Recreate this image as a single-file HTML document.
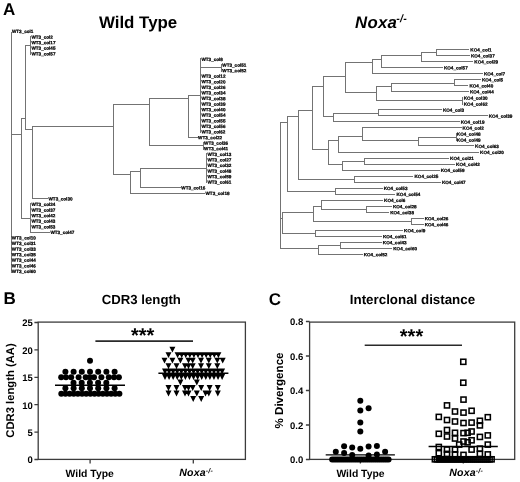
<!DOCTYPE html>
<html><head><meta charset="utf-8"><title>Figure</title>
<style>
html,body{margin:0;padding:0;background:#fff;}
body{width:520px;height:482px;overflow:hidden;font-family:"Liberation Sans",sans-serif;}
svg{display:block;filter:grayscale(1);}
text{text-rendering:geometricPrecision;}
</style></head><body>
<svg width="520" height="482" viewBox="0 0 520 482">
<rect width="520" height="482" fill="#fff"/>
<g stroke="#737373" stroke-width="1.00" fill="none" stroke-linecap="square">
<path d="M11.50 32.50L11.50 272.50M11.50 134.50L21.50 134.50M21.50 118.50L21.50 218.50M21.50 118.50L25.50 118.50M25.50 45.50L25.50 129.50M25.50 45.50L30.50 45.50M30.50 36.50L30.50 54.50M25.50 129.50L32.50 129.50M32.50 126.50L32.50 198.50M32.50 126.50L113.50 126.50M32.50 198.50L47.50 198.50M21.50 218.50L30.50 218.50M30.50 203.50L30.50 232.50M30.50 232.50L49.50 232.50M113.50 104.50L113.50 174.50M113.50 104.50L149.50 104.50M149.50 98.50L149.50 145.50M149.50 98.50L188.50 98.50M188.50 95.50L188.50 137.50M188.50 95.50L200.50 95.50M200.50 58.50L200.50 132.50M200.50 67.50L221.50 67.50M221.50 64.50L221.50 71.50M188.50 137.50L197.50 137.50M149.50 145.50L203.50 145.50M203.50 142.50L203.50 149.50M113.50 174.50L130.50 174.50M130.50 171.50L130.50 193.50M130.50 171.50L140.50 171.50M140.50 168.50L140.50 187.50M140.50 168.50L206.50 168.50M206.50 153.50L206.50 182.50M140.50 187.50L180.50 187.50M130.50 193.50L204.50 193.50M280.50 122.50L280.50 248.50M280.50 122.50L287.50 122.50M287.50 116.50L287.50 191.50M287.50 116.50L298.50 116.50M298.50 110.50L298.50 179.50M298.50 110.50L312.50 110.50M312.50 86.50L312.50 149.50M312.50 86.50L323.50 86.50M323.50 76.50L323.50 116.50M323.50 76.50L345.50 76.50M345.50 62.50L345.50 92.50M345.50 62.50L372.50 62.50M372.50 59.50L372.50 73.50M372.50 59.50L381.50 59.50M381.50 55.50L381.50 67.50M381.50 55.50L421.50 55.50M421.50 52.50L421.50 61.50M421.50 52.50L436.50 52.50M436.50 49.50L436.50 55.50M436.50 49.50L468.50 49.50M436.50 55.50L469.50 55.50M421.50 61.50L472.50 61.50M381.50 67.50L442.50 67.50M372.50 73.50L482.50 73.50M345.50 92.50L376.50 92.50M376.50 86.50L376.50 100.50M376.50 86.50L391.50 86.50M391.50 83.50L391.50 91.50M391.50 83.50L454.50 83.50M454.50 79.50L454.50 85.50M454.50 79.50L480.50 79.50M454.50 85.50L467.50 85.50M391.50 91.50L468.50 91.50M376.50 100.50L462.50 100.50M462.50 97.50L462.50 104.50M323.50 116.50L333.50 116.50M333.50 113.50L333.50 121.50M333.50 113.50L378.50 113.50M378.50 109.50L378.50 115.50M378.50 109.50L441.50 109.50M378.50 115.50L487.50 115.50M333.50 121.50L459.50 121.50M312.50 149.50L328.50 149.50M328.50 140.50L328.50 164.50M328.50 140.50L338.50 140.50M338.50 136.50L338.50 152.50M338.50 136.50L362.50 136.50M362.50 127.50L362.50 140.50M362.50 127.50L461.50 127.50M362.50 140.50L418.50 140.50M418.50 137.50L418.50 145.50M418.50 137.50L456.50 137.50M456.50 133.50L456.50 140.50M418.50 145.50L473.50 145.50M338.50 152.50L478.50 152.50M328.50 164.50L342.50 164.50M342.50 161.50L342.50 170.50M342.50 161.50L364.50 161.50M364.50 158.50L364.50 164.50M364.50 158.50L448.50 158.50M364.50 164.50L454.50 164.50M342.50 170.50L439.50 170.50M298.50 179.50L354.50 179.50M354.50 176.50L354.50 182.50M354.50 176.50L412.50 176.50M354.50 182.50L440.50 182.50M287.50 191.50L335.50 191.50M335.50 188.50L335.50 194.50M335.50 188.50L382.50 188.50M335.50 194.50L394.50 194.50M280.50 218.50L282.50 218.50M282.50 212.50L282.50 233.50M282.50 212.50L313.50 212.50M313.50 206.50L313.50 221.50M313.50 206.50L321.50 206.50M321.50 200.50L321.50 209.50M321.50 200.50L382.50 200.50M321.50 209.50L366.50 209.50M366.50 206.50L366.50 212.50M366.50 206.50L391.50 206.50M366.50 212.50L388.50 212.50M313.50 221.50L411.50 221.50M411.50 218.50L411.50 224.50M411.50 218.50L423.50 218.50M411.50 224.50L423.50 224.50M282.50 233.50L315.50 233.50M315.50 230.50L315.50 236.50M315.50 230.50L402.50 230.50M315.50 236.50L381.50 236.50M280.50 248.50L318.50 248.50M318.50 245.50L318.50 254.50M318.50 245.50L340.50 245.50M340.50 242.50L340.50 248.50M340.50 242.50L381.50 242.50M340.50 248.50L391.50 248.50M318.50 254.50L362.50 254.50"/>
</g>
<g font-family="Liberation Sans, sans-serif" font-weight="bold" font-size="4.60" fill="#000" stroke="#000" stroke-width="0.24" style="text-rendering:geometricPrecision" transform="rotate(0.03)">
<text x="12.00" y="33.06">WT3_col1</text>
<text x="12.00" y="239.52">WT3_col10</text>
<text x="12.00" y="245.10">WT3_col31</text>
<text x="12.00" y="250.68">WT3_col33</text>
<text x="12.00" y="256.26">WT3_col35</text>
<text x="12.00" y="261.84">WT3_col44</text>
<text x="12.00" y="267.42">WT3_col46</text>
<text x="12.00" y="273.00">WT3_col60</text>
<text x="31.50" y="38.64">WT3_col2</text>
<text x="31.50" y="44.22">WT3_col17</text>
<text x="31.50" y="49.80">WT3_col45</text>
<text x="31.50" y="55.38">WT3_col57</text>
<text x="48.60" y="200.46">WT3_col30</text>
<text x="31.50" y="206.04">WT3_col24</text>
<text x="31.50" y="211.62">WT3_col37</text>
<text x="31.50" y="217.20">WT3_col42</text>
<text x="31.50" y="222.78">WT3_col43</text>
<text x="31.50" y="228.36">WT3_col53</text>
<text x="50.50" y="233.94">WT3_col47</text>
<text x="222.40" y="66.54">WT3_col51</text>
<text x="222.40" y="72.12">WT3_col52</text>
<text x="201.50" y="60.96">WT3_col8</text>
<text x="201.50" y="77.70">WT3_col12</text>
<text x="201.50" y="83.28">WT3_col20</text>
<text x="201.50" y="88.86">WT3_col26</text>
<text x="201.50" y="94.44">WT3_col34</text>
<text x="201.50" y="100.02">WT3_col38</text>
<text x="201.50" y="105.60">WT3_col39</text>
<text x="201.50" y="111.18">WT3_col40</text>
<text x="201.50" y="116.76">WT3_col54</text>
<text x="201.50" y="122.34">WT3_col55</text>
<text x="201.50" y="127.92">WT3_col56</text>
<text x="201.50" y="133.50">WT3_col62</text>
<text x="198.20" y="139.08">WT3_col22</text>
<text x="204.20" y="144.66">WT3_col36</text>
<text x="204.20" y="150.24">WT3_col41</text>
<text x="207.50" y="155.82">WT3_col13</text>
<text x="207.50" y="161.40">WT3_col27</text>
<text x="207.50" y="166.98">WT3_col32</text>
<text x="207.50" y="172.56">WT3_col48</text>
<text x="207.50" y="178.14">WT3_col59</text>
<text x="207.50" y="183.72">WT3_col61</text>
<text x="181.40" y="189.30">WT3_col16</text>
<text x="205.60" y="194.88">WT3_col18</text>
<text x="470.40" y="51.16">KO4_col1</text>
<text x="471.00" y="57.19">KO4_col37</text>
<text x="474.40" y="63.22">KO4_col29</text>
<text x="444.00" y="69.25">KO4_col57</text>
<text x="484.00" y="75.28">KO4_col7</text>
<text x="482.00" y="81.31">KO4_col5</text>
<text x="469.50" y="87.34">KO4_col40</text>
<text x="470.00" y="93.37">KO4_col44</text>
<text x="463.80" y="99.40">KO4_col30</text>
<text x="463.80" y="105.43">KO4_col62</text>
<text x="443.00" y="111.46">KO4_col3</text>
<text x="488.70" y="117.49">KO4_col39</text>
<text x="460.80" y="123.52">KO4_col19</text>
<text x="462.70" y="129.55">KO4_col2</text>
<text x="456.90" y="135.58">KO4_col48</text>
<text x="456.90" y="141.61">KO4_col49</text>
<text x="475.20" y="147.64">KO4_col63</text>
<text x="480.20" y="153.67">KO4_col20</text>
<text x="450.20" y="159.70">KO4_col21</text>
<text x="456.20" y="165.73">KO4_col42</text>
<text x="440.80" y="171.76">KO4_col59</text>
<text x="414.60" y="177.79">KO4_col25</text>
<text x="442.00" y="183.82">KO4_col47</text>
<text x="383.80" y="189.85">KO4_col53</text>
<text x="396.60" y="195.88">KO4_col54</text>
<text x="384.20" y="201.91">KO4_col6</text>
<text x="393.00" y="207.94">KO4_col28</text>
<text x="390.30" y="213.97">KO4_col38</text>
<text x="424.80" y="220.00">KO4_col26</text>
<text x="424.80" y="226.03">KO4_col46</text>
<text x="404.20" y="232.06">KO4_col9</text>
<text x="383.00" y="238.09">KO4_col61</text>
<text x="383.00" y="244.12">KO4_col43</text>
<text x="393.40" y="250.15">KO4_col60</text>
<text x="363.80" y="256.18">KO4_col52</text>
</g>
<g font-family="Liberation Sans, sans-serif" font-weight="bold" fill="#000">
<text x="2.9" y="15" font-size="17">A</text>
<text x="3.6" y="303.8" font-size="17">B</text>
<text x="268.7" y="304.5" font-size="17">C</text>
<text x="98.9" y="27.6" font-size="16.9">Wild Type</text>
<text x="355" y="27.5" font-size="16.8" font-style="italic" letter-spacing="0.28">Noxa<tspan font-size="10.6" dy="-5.2" dx="-0.9">-/-</tspan></text>
<text x="101.8" y="304.3" font-size="13.2">CDR3 length</text>
<text x="349.8" y="303.9" font-size="13.35">Interclonal distance</text>
<text x="142.6" y="341.9" font-size="20" text-anchor="middle">***</text>
<text x="411.5" y="343.4" font-size="20" text-anchor="middle">***</text>
<text x="89.7" y="477" font-size="10.4" text-anchor="middle">Wild Type</text>
<text x="360.5" y="477" font-size="10.4" text-anchor="middle">Wild Type</text>
<text x="179.3" y="476.1" font-size="10.6" font-style="italic" letter-spacing="0.15">Noxa<tspan font-size="7" dy="-3.2">-/-</tspan></text>
<text x="449.3" y="476.1" font-size="10.6" font-style="italic" letter-spacing="0.15">Noxa<tspan font-size="7" dy="-3.2">-/-</tspan></text>
<text transform="translate(13.6,390.5) rotate(-90)" font-size="11.25" text-anchor="middle">CDR3 length (AA)</text>
<text transform="translate(283.3,390.5) rotate(-90)" font-size="11.6" text-anchor="middle">% Divergence</text>
<text x="32.8" y="463.30" font-size="9.5" text-anchor="end">0</text>
<text x="32.8" y="435.90" font-size="9.5" text-anchor="end">5</text>
<text x="32.8" y="408.50" font-size="9.5" text-anchor="end">10</text>
<text x="32.8" y="381.10" font-size="9.5" text-anchor="end">15</text>
<text x="32.8" y="353.70" font-size="9.5" text-anchor="end">20</text>
<text x="32.8" y="326.30" font-size="9.5" text-anchor="end">25</text>
<text x="303.3" y="463.40" font-size="9.5" text-anchor="end">0.0</text>
<text x="303.3" y="428.90" font-size="9.5" text-anchor="end">0.2</text>
<text x="303.3" y="394.40" font-size="9.5" text-anchor="end">0.4</text>
<text x="303.3" y="359.90" font-size="9.5" text-anchor="end">0.6</text>
<text x="303.3" y="325.40" font-size="9.5" text-anchor="end">0.8</text>
</g>
<g stroke="#3c3c3c" stroke-width="1.3" fill="none" stroke-linecap="butt">
<rect x="38.2" y="322.1" width="207.2" height="137.3"/>
<rect x="309.6" y="322.1" width="205.1" height="137.3"/>
<path d="M34.4 459.50H38.2M34.4 432.10H38.2M34.4 404.70H38.2M34.4 377.30H38.2M34.4 349.90H38.2M34.4 322.50H38.2M305.9 459.50H309.6M305.9 425.00H309.6M305.9 390.50H309.6M305.9 356.00H309.6M305.9 321.50H309.6M90.1 459.4V463.6M193.3 459.4V463.6M360.4 459.4V463.6M463.3 459.4V463.6"/>
</g>
<g stroke="#2a2a2a" stroke-width="1.6" fill="none">
<path d="M95.4 341.1H193M364.7 345.2H462"/>
<path d="M55 385.3H125M158.4 373.2H228.4M325.7 454.9H394.9M428.6 446.5H497.8" stroke="#000" stroke-width="1.4"/>
</g>
<g fill="#000">
<circle cx="90.00" cy="360.86" r="3.00"/>
<circle cx="65.40" cy="371.82" r="3.00"/>
<circle cx="73.60" cy="371.82" r="3.00"/>
<circle cx="81.80" cy="371.82" r="3.00"/>
<circle cx="90.00" cy="371.82" r="3.00"/>
<circle cx="98.20" cy="371.82" r="3.00"/>
<circle cx="106.40" cy="371.82" r="3.00"/>
<circle cx="114.60" cy="371.82" r="3.00"/>
<circle cx="61.20" cy="377.30" r="3.00"/>
<circle cx="66.00" cy="377.30" r="3.00"/>
<circle cx="71.20" cy="377.30" r="3.00"/>
<circle cx="78.60" cy="377.30" r="3.00"/>
<circle cx="85.70" cy="377.30" r="3.00"/>
<circle cx="89.80" cy="377.30" r="3.00"/>
<circle cx="94.00" cy="377.30" r="3.00"/>
<circle cx="101.40" cy="377.30" r="3.00"/>
<circle cx="108.80" cy="377.30" r="3.00"/>
<circle cx="114.00" cy="377.30" r="3.00"/>
<circle cx="118.90" cy="377.30" r="3.00"/>
<circle cx="73.50" cy="382.78" r="3.00"/>
<circle cx="81.70" cy="382.78" r="3.00"/>
<circle cx="89.90" cy="382.78" r="3.00"/>
<circle cx="98.10" cy="382.78" r="3.00"/>
<circle cx="106.30" cy="382.78" r="3.00"/>
<circle cx="65.40" cy="388.26" r="3.00"/>
<circle cx="73.60" cy="388.26" r="3.00"/>
<circle cx="81.80" cy="388.26" r="3.00"/>
<circle cx="90.00" cy="388.26" r="3.00"/>
<circle cx="98.20" cy="388.26" r="3.00"/>
<circle cx="106.40" cy="388.26" r="3.00"/>
<circle cx="114.60" cy="388.26" r="3.00"/>
<circle cx="61.30" cy="393.74" r="3.00"/>
<circle cx="65.45" cy="393.74" r="3.00"/>
<circle cx="69.60" cy="393.74" r="3.00"/>
<circle cx="73.75" cy="393.74" r="3.00"/>
<circle cx="77.90" cy="393.74" r="3.00"/>
<circle cx="82.05" cy="393.74" r="3.00"/>
<circle cx="86.20" cy="393.74" r="3.00"/>
<circle cx="90.35" cy="393.74" r="3.00"/>
<circle cx="94.50" cy="393.74" r="3.00"/>
<circle cx="98.65" cy="393.74" r="3.00"/>
<circle cx="102.80" cy="393.74" r="3.00"/>
<circle cx="106.95" cy="393.74" r="3.00"/>
<circle cx="111.10" cy="393.74" r="3.00"/>
<circle cx="115.25" cy="393.74" r="3.00"/>
<circle cx="119.40" cy="393.74" r="3.00"/>
</g>
<path d="M169.40 346.70h6l-3 5.9zM165.50 352.18h6l-3 5.9zM174.60 352.18h6l-3 5.9zM178.68 352.18h6l-3 5.9zM182.76 352.18h6l-3 5.9zM186.84 352.18h6l-3 5.9zM190.92 352.18h6l-3 5.9zM195.00 352.18h6l-3 5.9zM199.08 352.18h6l-3 5.9zM203.16 352.18h6l-3 5.9zM207.24 352.18h6l-3 5.9zM211.32 352.18h6l-3 5.9zM215.40 352.18h6l-3 5.9zM161.50 357.66h6l-3 5.9zM169.40 357.66h6l-3 5.9zM177.40 357.66h6l-3 5.9zM185.50 357.66h6l-3 5.9zM189.70 357.66h6l-3 5.9zM198.00 357.66h6l-3 5.9zM205.80 357.66h6l-3 5.9zM214.30 357.66h6l-3 5.9zM219.70 357.66h6l-3 5.9zM165.50 363.14h6l-3 5.9zM173.50 363.14h6l-3 5.9zM182.00 363.14h6l-3 5.9zM185.50 363.14h6l-3 5.9zM189.70 363.14h6l-3 5.9zM198.00 363.14h6l-3 5.9zM205.80 363.14h6l-3 5.9zM214.30 363.14h6l-3 5.9zM162.00 368.62h6l-3 5.9zM166.08 368.62h6l-3 5.9zM170.16 368.62h6l-3 5.9zM174.24 368.62h6l-3 5.9zM178.32 368.62h6l-3 5.9zM182.40 368.62h6l-3 5.9zM186.48 368.62h6l-3 5.9zM190.56 368.62h6l-3 5.9zM194.64 368.62h6l-3 5.9zM198.72 368.62h6l-3 5.9zM202.80 368.62h6l-3 5.9zM206.88 368.62h6l-3 5.9zM210.96 368.62h6l-3 5.9zM215.04 368.62h6l-3 5.9zM219.12 368.62h6l-3 5.9zM162.00 374.10h6l-3 5.9zM166.08 374.10h6l-3 5.9zM170.16 374.10h6l-3 5.9zM174.24 374.10h6l-3 5.9zM178.32 374.10h6l-3 5.9zM182.40 374.10h6l-3 5.9zM186.48 374.10h6l-3 5.9zM190.56 374.10h6l-3 5.9zM194.64 374.10h6l-3 5.9zM198.72 374.10h6l-3 5.9zM202.80 374.10h6l-3 5.9zM206.88 374.10h6l-3 5.9zM210.96 374.10h6l-3 5.9zM215.04 374.10h6l-3 5.9zM219.12 374.10h6l-3 5.9zM177.40 379.58h6l-3 5.9zM193.80 379.58h6l-3 5.9zM165.50 385.06h6l-3 5.9zM173.50 385.06h6l-3 5.9zM182.00 385.06h6l-3 5.9zM185.50 385.06h6l-3 5.9zM189.70 385.06h6l-3 5.9zM198.20 385.06h6l-3 5.9zM206.60 385.06h6l-3 5.9zM214.80 385.06h6l-3 5.9zM165.50 390.54h6l-3 5.9zM173.50 390.54h6l-3 5.9zM182.00 390.54h6l-3 5.9zM185.50 390.54h6l-3 5.9zM193.80 390.54h6l-3 5.9zM202.50 390.54h6l-3 5.9zM205.80 390.54h6l-3 5.9zM214.80 390.54h6l-3 5.9zM190.20 396.02h6l-3 5.9zM198.20 396.02h6l-3 5.9z" fill="#000"/>
<g fill="#000">
<circle cx="360.30" cy="400.70" r="3.00"/>
<circle cx="360.30" cy="410.40" r="3.00"/>
<circle cx="368.60" cy="408.20" r="3.00"/>
<circle cx="360.30" cy="422.40" r="3.00"/>
<circle cx="360.30" cy="431.50" r="3.00"/>
<circle cx="344.10" cy="446.20" r="3.00"/>
<circle cx="352.20" cy="447.40" r="3.00"/>
<circle cx="360.30" cy="448.80" r="3.00"/>
<circle cx="368.60" cy="446.60" r="3.00"/>
<circle cx="376.90" cy="445.90" r="3.00"/>
<circle cx="335.80" cy="451.80" r="3.00"/>
<circle cx="385.10" cy="451.80" r="3.00"/>
<circle cx="344.10" cy="453.10" r="3.00"/>
<circle cx="352.20" cy="454.90" r="3.00"/>
<circle cx="368.60" cy="455.40" r="3.00"/>
<circle cx="376.90" cy="454.40" r="3.00"/>
<circle cx="332.10" cy="459.50" r="3.00"/>
<circle cx="334.12" cy="459.50" r="3.00"/>
<circle cx="336.14" cy="459.50" r="3.00"/>
<circle cx="338.15" cy="459.50" r="3.00"/>
<circle cx="340.17" cy="459.50" r="3.00"/>
<circle cx="342.19" cy="459.50" r="3.00"/>
<circle cx="344.21" cy="459.50" r="3.00"/>
<circle cx="346.23" cy="459.50" r="3.00"/>
<circle cx="348.24" cy="459.50" r="3.00"/>
<circle cx="350.26" cy="459.50" r="3.00"/>
<circle cx="352.28" cy="459.50" r="3.00"/>
<circle cx="354.30" cy="459.50" r="3.00"/>
<circle cx="356.32" cy="459.50" r="3.00"/>
<circle cx="358.33" cy="459.50" r="3.00"/>
<circle cx="360.35" cy="459.50" r="3.00"/>
<circle cx="362.37" cy="459.50" r="3.00"/>
<circle cx="364.39" cy="459.50" r="3.00"/>
<circle cx="366.41" cy="459.50" r="3.00"/>
<circle cx="368.42" cy="459.50" r="3.00"/>
<circle cx="370.44" cy="459.50" r="3.00"/>
<circle cx="372.46" cy="459.50" r="3.00"/>
<circle cx="374.48" cy="459.50" r="3.00"/>
<circle cx="376.50" cy="459.50" r="3.00"/>
<circle cx="378.51" cy="459.50" r="3.00"/>
<circle cx="380.53" cy="459.50" r="3.00"/>
<circle cx="382.55" cy="459.50" r="3.00"/>
<circle cx="384.57" cy="459.50" r="3.00"/>
<circle cx="386.59" cy="459.50" r="3.00"/>
<circle cx="388.60" cy="459.50" r="3.00"/>
</g>
<g fill="none" stroke="#000" stroke-width="1.55">
<rect x="460.75" y="359.25" width="5.10" height="5.10"/>
<rect x="460.75" y="380.15" width="5.10" height="5.10"/>
<rect x="460.95" y="397.05" width="5.10" height="5.10"/>
<rect x="444.45" y="402.85" width="5.10" height="5.10"/>
<rect x="452.45" y="408.95" width="5.10" height="5.10"/>
<rect x="460.95" y="410.05" width="5.10" height="5.10"/>
<rect x="469.05" y="408.25" width="5.10" height="5.10"/>
<rect x="436.25" y="414.35" width="5.10" height="5.10"/>
<rect x="485.25" y="414.65" width="5.10" height="5.10"/>
<rect x="444.45" y="417.45" width="5.10" height="5.10"/>
<rect x="452.45" y="418.95" width="5.10" height="5.10"/>
<rect x="460.95" y="420.45" width="5.10" height="5.10"/>
<rect x="469.05" y="420.05" width="5.10" height="5.10"/>
<rect x="477.35" y="418.25" width="5.10" height="5.10"/>
<rect x="477.35" y="422.85" width="5.10" height="5.10"/>
<rect x="444.45" y="427.45" width="5.10" height="5.10"/>
<rect x="469.05" y="428.95" width="5.10" height="5.10"/>
<rect x="436.25" y="431.25" width="5.10" height="5.10"/>
<rect x="452.45" y="430.25" width="5.10" height="5.10"/>
<rect x="460.95" y="430.55" width="5.10" height="5.10"/>
<rect x="465.05" y="430.25" width="5.10" height="5.10"/>
<rect x="485.25" y="432.85" width="5.10" height="5.10"/>
<rect x="444.45" y="433.95" width="5.10" height="5.10"/>
<rect x="477.35" y="434.35" width="5.10" height="5.10"/>
<rect x="452.45" y="435.95" width="5.10" height="5.10"/>
<rect x="469.05" y="437.75" width="5.10" height="5.10"/>
<rect x="460.95" y="438.95" width="5.10" height="5.10"/>
<rect x="465.05" y="439.75" width="5.10" height="5.10"/>
<rect x="456.65" y="442.05" width="5.10" height="5.10"/>
<rect x="485.25" y="442.05" width="5.10" height="5.10"/>
<rect x="436.25" y="444.45" width="5.10" height="5.10"/>
<rect x="444.45" y="447.05" width="5.10" height="5.10"/>
<rect x="452.45" y="447.05" width="5.10" height="5.10"/>
<rect x="469.05" y="447.05" width="5.10" height="5.10"/>
<rect x="477.35" y="446.05" width="5.10" height="5.10"/>
<rect x="436.25" y="450.65" width="5.10" height="5.10"/>
<rect x="444.45" y="451.35" width="5.10" height="5.10"/>
<rect x="452.45" y="451.75" width="5.10" height="5.10"/>
<rect x="460.95" y="452.35" width="5.10" height="5.10"/>
<rect x="477.35" y="451.35" width="5.10" height="5.10"/>
<rect x="485.25" y="451.85" width="5.10" height="5.10"/>
<rect x="432.35" y="456.75" width="5.10" height="5.10"/>
<rect x="434.37" y="456.75" width="5.10" height="5.10"/>
<rect x="436.40" y="456.75" width="5.10" height="5.10"/>
<rect x="438.42" y="456.75" width="5.10" height="5.10"/>
<rect x="440.45" y="456.75" width="5.10" height="5.10"/>
<rect x="442.47" y="456.75" width="5.10" height="5.10"/>
<rect x="444.50" y="456.75" width="5.10" height="5.10"/>
<rect x="446.52" y="456.75" width="5.10" height="5.10"/>
<rect x="448.55" y="456.75" width="5.10" height="5.10"/>
<rect x="450.57" y="456.75" width="5.10" height="5.10"/>
<rect x="452.60" y="456.75" width="5.10" height="5.10"/>
<rect x="454.62" y="456.75" width="5.10" height="5.10"/>
<rect x="456.65" y="456.75" width="5.10" height="5.10"/>
<rect x="458.67" y="456.75" width="5.10" height="5.10"/>
<rect x="460.70" y="456.75" width="5.10" height="5.10"/>
<rect x="462.72" y="456.75" width="5.10" height="5.10"/>
<rect x="464.75" y="456.75" width="5.10" height="5.10"/>
<rect x="466.77" y="456.75" width="5.10" height="5.10"/>
<rect x="468.80" y="456.75" width="5.10" height="5.10"/>
<rect x="470.82" y="456.75" width="5.10" height="5.10"/>
<rect x="472.85" y="456.75" width="5.10" height="5.10"/>
<rect x="474.87" y="456.75" width="5.10" height="5.10"/>
<rect x="476.90" y="456.75" width="5.10" height="5.10"/>
<rect x="478.92" y="456.75" width="5.10" height="5.10"/>
<rect x="480.95" y="456.75" width="5.10" height="5.10"/>
<rect x="482.97" y="456.75" width="5.10" height="5.10"/>
<rect x="485.00" y="456.75" width="5.10" height="5.10"/>
<rect x="487.02" y="456.75" width="5.10" height="5.10"/>
<rect x="489.05" y="456.75" width="5.10" height="5.10"/>
</g>
</svg>
</body></html>
